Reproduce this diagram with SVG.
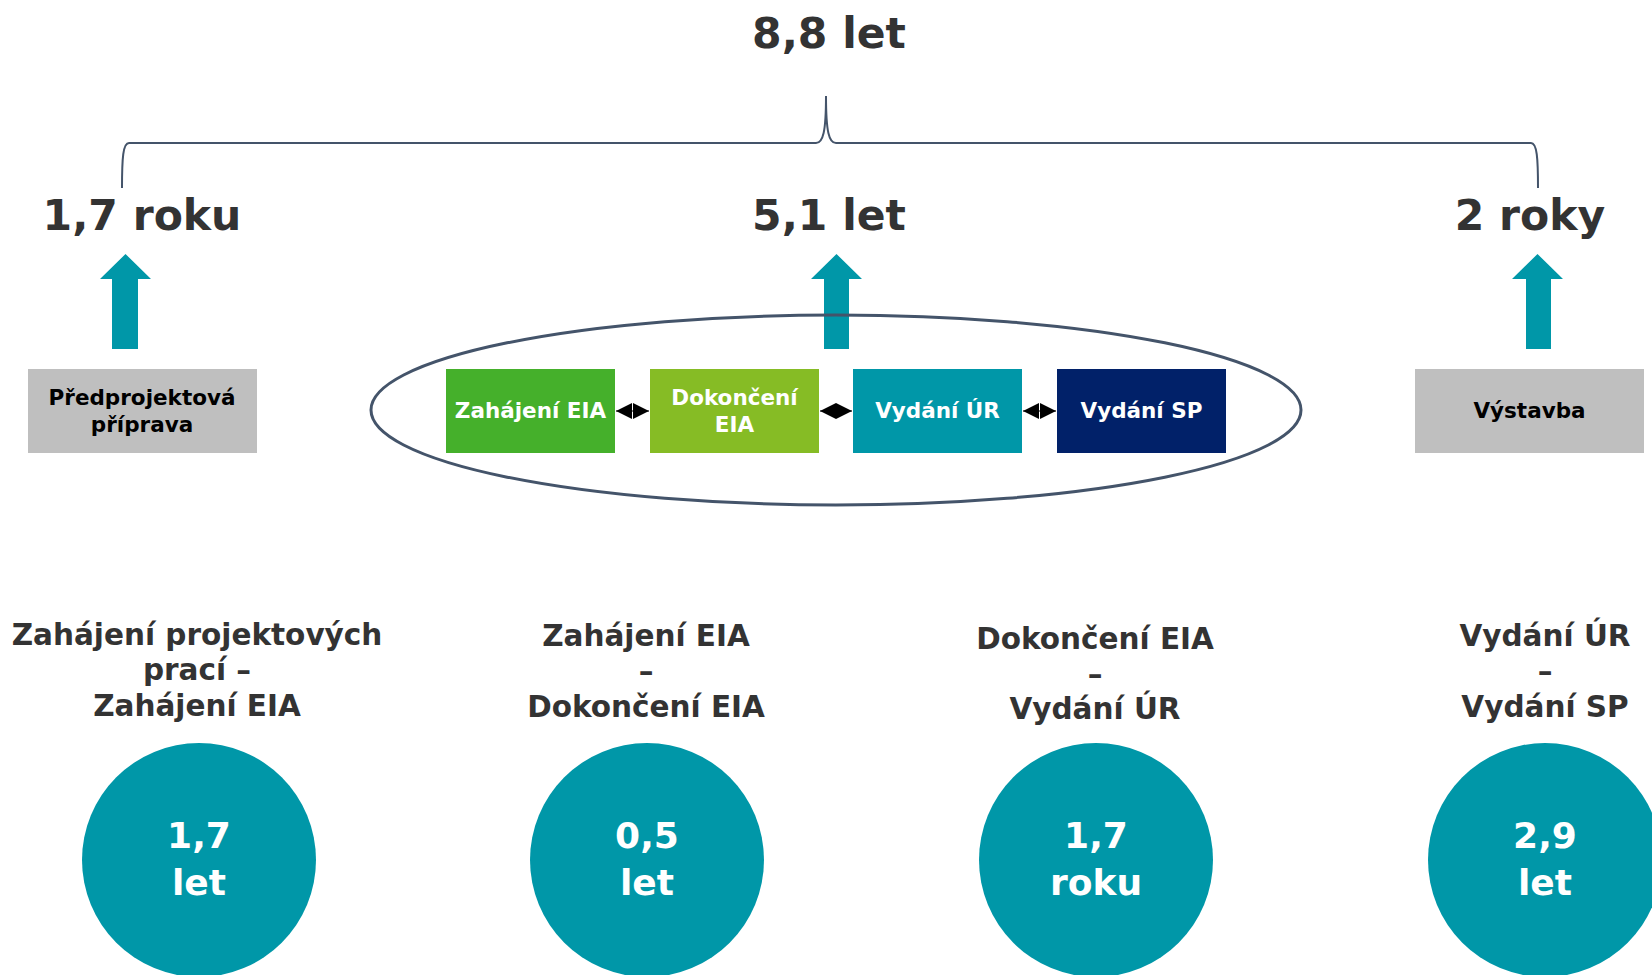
<svg xmlns="http://www.w3.org/2000/svg" width="1652" height="975" viewBox="0 0 1652 975">
<style>
text{font-family:"DejaVu Sans","Liberation Sans",sans-serif;font-weight:bold;text-anchor:middle}
.big{font-size:42.5px;fill:#333333}
.box{font-size:21.5px;fill:#ffffff}
.boxd{font-size:21.5px;fill:#000000}
.title{font-size:29.5px;fill:#333333}
.num{font-size:36px;fill:#ffffff}
.up{fill:#0097A8}
.circ{fill:#0097A8}
</style>
<defs>
<marker id="ah" markerUnits="userSpaceOnUse" markerWidth="17" markerHeight="17" refX="16" refY="8" orient="auto-start-reverse" viewBox="0 0 17 17">
<path d="M0,0 L16,8 L0,16 z" fill="#000"/>
</marker>
</defs>
<rect width="1652" height="975" fill="#ffffff"/>

<g id="total">
<text class="big" x="829" y="48">8,8 let</text>
</g>
<g id="brace">
<path d="M122,188 C122,158 123,143 129,143 L816,143 C823,143 826,132 826,96 C826,132 829,143 836,143 L1531,143 C1537,143 1538,158 1538,188" fill="none" stroke="#44546A" stroke-width="2"/>
</g>

<g id="sum1"><text class="big" x="142" y="230">1,7 roku</text></g>
<g id="sum2"><text class="big" x="829" y="230">5,1 let</text></g>
<g id="sum3"><text class="big" x="1530" y="230">2 roky</text></g>

<g id="up-arrows">
<path class="up" d="M125.5,254 L151,279 L138,279 L138,349 L112,349 L112,279 L100,279 Z"/>
<path class="up" d="M836.5,254 L862,279 L849,279 L849,349 L824,349 L824,279 L811,279 Z"/>
<path class="up" d="M1537.5,254 L1563,279 L1551,279 L1551,349 L1526,349 L1526,279 L1512,279 Z"/>
</g>

<g id="ellipse">
<ellipse cx="836" cy="410" rx="465" ry="95" fill="none" stroke="#44546A" stroke-width="3"/>
</g>

<g id="predprojektova">
<rect x="28" y="369" width="229" height="84" fill="#BFBFBF"/>
<text class="boxd" x="142" y="405">Předprojektová</text>
<text class="boxd" x="142" y="432">příprava</text>
</g>
<g id="zahajeni-eia">
<rect x="446" y="369" width="169" height="84" fill="#45B02B"/>
<text class="box" x="530.5" y="418">Zahájení EIA</text>
</g>
<g id="dokonceni-eia">
<rect x="650" y="369" width="169" height="84" fill="#86BC25"/>
<text class="box" x="734.5" y="405">Dokončení</text>
<text class="box" x="734.5" y="432">EIA</text>
</g>
<g id="vydani-ur">
<rect x="853" y="369" width="169" height="84" fill="#0097A8"/>
<text class="box" x="937.5" y="418">Vydání ÚR</text>
</g>
<g id="vydani-sp">
<rect x="1057" y="369" width="169" height="84" fill="#012169"/>
<text class="box" x="1141.5" y="418">Vydání SP</text>
</g>
<g id="vystavba">
<rect x="1415" y="369" width="229" height="84" fill="#BFBFBF"/>
<text class="boxd" x="1529.5" y="418">Výstavba</text>
</g>

<g id="connectors">
<path d="M616,411 L649,411" stroke="#000" stroke-width="1" marker-start="url(#ah)" marker-end="url(#ah)"/>
<path d="M820,411 L852,411" stroke="#000" stroke-width="1" marker-start="url(#ah)" marker-end="url(#ah)"/>
<path d="M1023,411 L1056,411" stroke="#000" stroke-width="1" marker-start="url(#ah)" marker-end="url(#ah)"/>
</g>

<g id="phase1">
<text class="title" x="197" y="645">Zahájení projektových</text>
<text class="title" x="197" y="680">prací –</text>
<text class="title" x="197" y="716">Zahájení EIA</text>
<circle class="circ" cx="199" cy="860" r="117"/>
<text class="num" x="199" y="848">1,7</text>
<text class="num" x="199" y="895">let</text>
</g>
<g id="phase2">
<text class="title" x="646" y="646">Zahájení EIA</text>
<text class="title" x="646" y="681">–</text>
<text class="title" x="646" y="717">Dokončení EIA</text>
<circle class="circ" cx="647" cy="860" r="117"/>
<text class="num" x="647" y="848">0,5</text>
<text class="num" x="647" y="895">let</text>
</g>
<g id="phase3">
<text class="title" x="1095" y="649">Dokončení EIA</text>
<text class="title" x="1095" y="684">–</text>
<text class="title" x="1095" y="719">Vydání ÚR</text>
<circle class="circ" cx="1096" cy="860" r="117"/>
<text class="num" x="1096" y="848">1,7</text>
<text class="num" x="1096" y="895">roku</text>
</g>
<g id="phase4">
<text class="title" x="1545" y="646">Vydání ÚR</text>
<text class="title" x="1545" y="681">–</text>
<text class="title" x="1545" y="717">Vydání SP</text>
<circle class="circ" cx="1545" cy="860" r="117"/>
<text class="num" x="1545" y="848">2,9</text>
<text class="num" x="1545" y="895">let</text>
</g>
</svg>
